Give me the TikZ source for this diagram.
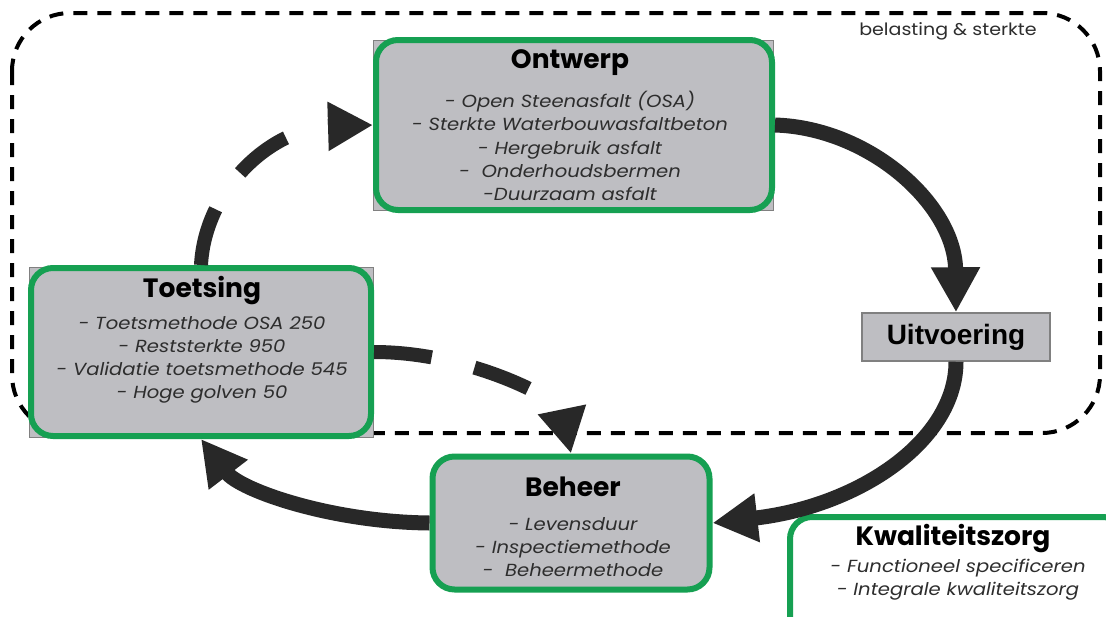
\documentclass[tikz,border=0pt]{standalone}
\usepackage{fontspec}
\setmainfont{Poppins}
\newfontfamily\listfont[FakeStretch=1.12]{Poppins}
\newfontfamily\uitfont{Liberation Sans}
\usetikzlibrary{arrows.meta}
\definecolor{boxgreen}{RGB}{22,160,82}
\definecolor{boxgrey}{RGB}{190,190,194}
\definecolor{arrowdark}{RGB}{40,40,40}
\definecolor{txtgrey}{RGB}{45,45,45}
\tikzset{
  greenbox/.style={draw=boxgreen, line width=6pt, rounded corners=22pt, fill=boxgrey, inner sep=0pt},
  whitebox/.style={draw=boxgreen, line width=6pt, rounded corners=22pt, fill=white, inner sep=0pt},
  backrect/.style={draw=gray, line width=1pt, fill=boxgrey, inner sep=0pt},
  titletext/.style={font=\bfseries\fontsize{26.5}{28}\selectfont, text=black, inner sep=0pt},
  listtext/.style={font=\listfont\itshape\fontsize{17.5}{23.2}\selectfont, text=txtgrey, align=center, inner sep=0pt},
  solidarrow/.style={draw=arrowdark, line width=15pt, -{Triangle[length=45pt,width=46pt]}},
  dasharrow/.style={draw=arrowdark, line width=14pt, dash pattern=on 58pt off 44pt, -{Triangle[length=45pt,width=46pt]}},
  outerdash/.style={draw=black, line width=4pt, dash pattern=on 14pt off 10pt, rounded corners=58pt},
}
\begin{document}
\begin{tikzpicture}[x=1pt,y=-1pt]
\useasboundingbox (0,0) rectangle (1106,616);
\fill[white] (0,0) rectangle (1106,616);
% outer dashed region
\draw[outerdash] (12,13) rectangle (1100,433);
\node[anchor=center, font=\listfont\fontsize{17}{19}\selectfont, text=txtgrey, inner sep=0pt] (bel) at (948,31) {belasting \& sterkte};
% Ontwerp
\node[backrect, minimum width=400pt, minimum height=170pt] (ontwerpbg) at (573,125) {};
\node[greenbox, minimum width=396pt, minimum height=170pt] (ontwerp) at (574,125) {};
\node[titletext] (ontwerpt) at (570,63) {Ontwerp};
\node[listtext] (ontwerpl) at (570,146) {- Open Steenasfalt (OSA)\\- Sterkte Waterbouwasfaltbeton\\- Hergebruik asfalt\\-~~Onderhoudsbermen\\-Duurzaam asfalt};
% Toetsing
\node[backrect, minimum width=344pt, minimum height=170pt] (toetsingbg) at (201,352) {};
\node[greenbox, minimum width=340pt, minimum height=168pt] (toetsing) at (201,352) {};
\node[titletext] (toetsingt) at (202,291) {Toetsing};
\node[listtext] (toetsingl) at (202,360) {- Toetsmethode OSA 250\\- Reststerkte 950\\- Validatie toetsmethode 545\\- Hoge golven 50};
% Uitvoering
\node[draw=gray, line width=1.5pt, fill=boxgrey, minimum width=188pt, minimum height=48pt, inner sep=0pt] (uitvoering) at (956,337) {};
\node[font=\uitfont\bfseries\fontsize{28}{30}\selectfont, inner sep=0pt, text=black] (uitvoeringt) at (956,337) {Uitvoering};
% Beheer
\node[greenbox, minimum width=277pt, minimum height=133pt] (beheer) at (571,523) {};
\node[titletext] (behereert) at (573,487) {Beheer};
\node[listtext] (beheerl) at (573,547) {- Levensduur\\- Inspectiemethode\\-~~Beheermethode};
% Kwaliteitszorg
\draw[whitebox] (790,517) rectangle (1125,640);
\node[titletext] (kwalt) at (953,539) {Kwaliteitszorg};
\node[listtext] (kwall) at (958,580) {- Functioneel specificeren\\- Integrale kwaliteitszorg};
% arrows
\draw[solidarrow] (ontwerp.east) .. controls (870,128) and (955,205) .. (uitvoering.north);
\draw[solidarrow] (uitvoering.south) .. controls (956,440) and (860,506) .. (beheer.east);
\draw[solidarrow] (beheer.west) .. controls (330,522) and (240,490) .. (toetsing.south);
\draw[dasharrow] (toetsing.north) .. controls (205,190) and (270,128) .. (ontwerp.west);
\draw[dasharrow] (toetsing.east) .. controls (470,352) and (560,400) .. (beheer.north);
\end{tikzpicture}
\end{document}
